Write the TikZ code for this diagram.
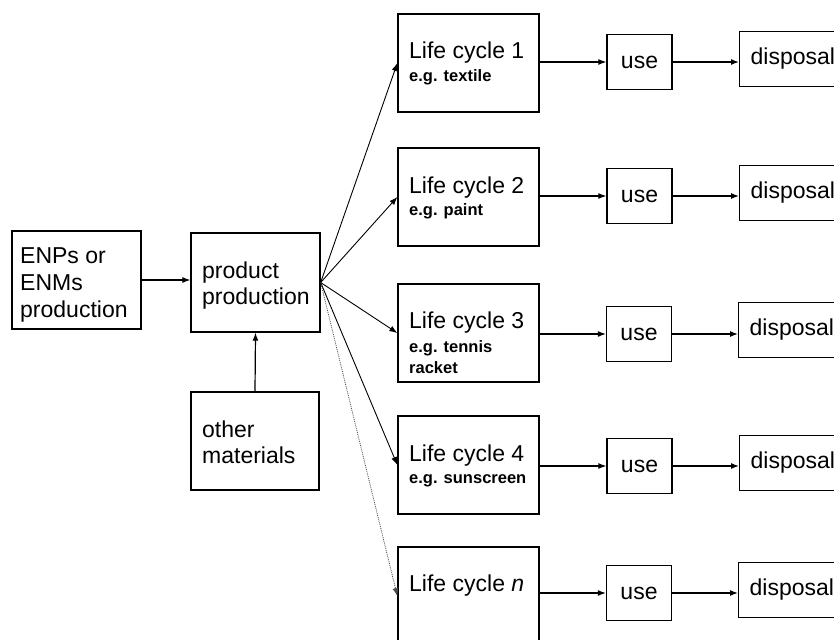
\documentclass[tikz,border=0pt]{standalone}
\usepackage{fontspec}
\setmainfont{Liberation Sans}
\usetikzlibrary{arrows.meta}
\begin{document}
\begin{tikzpicture}[x=1pt,y=-1pt,
  box/.style={draw, line width=1.3pt, inner sep=0pt},
  main/.style={font=\fontsize{23}{27}\selectfont},
  txt/.style={anchor=base west, inner sep=0pt, align=left, main},
  sub/.style={anchor=base west, inner sep=0pt, align=left, font=\fontsize{16.5}{21}\selectfont\bfseries},
  lcbox/.style={box, minimum width=141pt, minimum height=98pt},
  usebox/.style={box, main, minimum width=65pt, minimum height=55pt},
  disbox/.style={box, main, anchor=west, text width=90pt, inner xsep=11pt, align=left, minimum height=55pt},
  arr/.style={line width=1.2pt, -{Latex[length=8pt,width=6pt]}},
  fan/.style={line width=0.9pt, -{Latex[length=8pt,width=6pt]}},
]
\useasboundingbox (0,0) rectangle (834,639);
\clip (0,0) rectangle (834,639);

% left part (multi-line texts: base anchor = last line)
\node[box, minimum width=129pt, minimum height=98pt] (enp) at (76.5,280) {};
\node[txt] (enpt) at (20,317) {ENPs or\\ENMs\\production};
\node[box, minimum width=129pt, minimum height=99pt] (prod) at (255.5,282.5) {};
\node[txt, font=\fontsize{23}{26}\selectfont] (prodt) at (202,304) {product\\production};
\node[box, minimum width=128pt, minimum height=98pt] (oth) at (255,441) {};
\node[txt, font=\fontsize{23}{26}\selectfont] (otht) at (202,463) {other\\materials};

% life cycles
\node[lcbox] (lc1) at (468.5,63) {};
\node[txt] (lc1t) at (409,59) {Life cycle 1};
\node[sub] (lc1s) at (409,82) {e.g. textile};
\node[lcbox] (lc2) at (468.5,197) {};
\node[txt] (lc2t) at (409,193) {Life cycle 2};
\node[sub] (lc2s) at (409,215) {e.g. paint};
\node[lcbox] (lc3) at (468.5,333) {};
\node[txt] (lc3t) at (409,328) {Life cycle 3};
\node[sub] (lc3s) at (409,373) {e.g. tennis\\racket};
\node[lcbox] (lc4) at (468.5,465) {};
\node[txt] (lc4t) at (409,461) {Life cycle 4};
\node[sub] (lc4s) at (409,483) {e.g. sunscreen};
\node[lcbox] (lcn) at (468.5,596) {};
\node[txt] (lcnt) at (409,591) {Life cycle \textit{n}};

% use
\node[usebox] (use1) at (639.5,62) {use};
\node[usebox] (use2) at (639.5,196) {use};
\node[usebox] (use3) at (639,334) {use};
\node[usebox] (use4) at (639.5,466) {use};
\node[usebox] (use5) at (639,593) {use};

% disposal
\node[disbox] (dis1) at (739,59) {disposal};
\node[disbox] (dis2) at (739,193) {disposal};
\node[disbox] (dis3) at (738,330) {disposal};
\node[disbox] (dis4) at (739,463) {disposal};
\node[disbox] (dis5) at (738,590) {disposal};

% connectors
\draw[arr] (enp.east) -- (enp.east -| prod.west);
\draw[arr] (oth.north) -- (prod.south);
\draw[fan] (prod.east) -- (lc1.west);
\draw[fan] (prod.east) -- (lc2.west);
\draw[fan] (prod.east) -- (lc3.west);
\draw[fan] (prod.east) -- (lc4.west);
\draw[fan, densely dotted, line width=0.8pt, black!70] (prod.east) -- (lcn.west);
\foreach \i/\l in {1/lc1,2/lc2,3/lc3,4/lc4,5/lcn}{
  \draw[arr] (\l.east |- use\i.west) -- (use\i.west);
  \draw[arr] (use\i.east) -- (use\i.east -| dis\i.west);
}
\end{tikzpicture}
\end{document}
